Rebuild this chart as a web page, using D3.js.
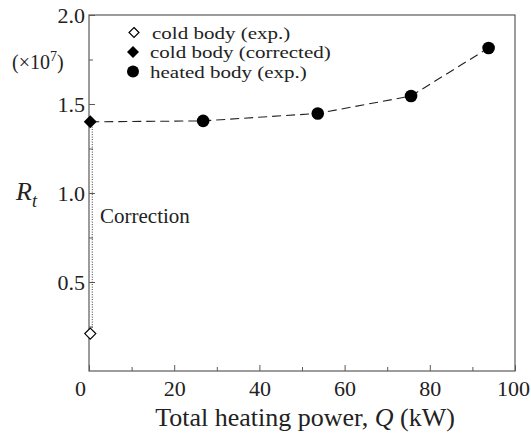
<!DOCTYPE html>
<html>
<head>
<meta charset="utf-8">
<script src="https://cdn.jsdelivr.net/npm/d3@7"></script>
<style>
  body { margin: 0; background: #fff; }
  svg text { font-family: "Liberation Serif", "DejaVu Serif", serif; fill: #222; }
</style>
</head>
<body>
<svg id="chart" width="531" height="439"></svg>
<script>
// Thermal resistance R_t (×10^7) versus total heating power Q (kW)
const coldExpQ = [0.3];
const coldExpR = [0.21];
const coldCorrQ = [0.3];
const coldCorrR = [1.40];
const heatedQ = [0.3, 26.8, 53.7, 75.6, 93.8];
const heatedR = [1.40, 1.405, 1.447, 1.545, 1.815];
const xTicks = [0, 20, 40, 60, 80, 100];
const xMinor = [10, 30, 50, 70, 90];
const yTicks = [0.5, 1.0, 1.5, 2.0];
const yMinor = [0.25, 0.75, 1.25, 1.75];
const legendLabels = ["cold body (exp.)", "cold body (corrected)", "heated body (exp.)"];

const svg = d3.select("#chart");
const L = 89, R = 515, T = 15, B = 371;
const x = d3.scaleLinear().domain([0, 100]).range([L, R]);
const y = d3.scaleLinear().domain([0, 2]).range([B, T]);
const axisColor = "#5a5a5a";

// frame
svg.append("rect").attr("x", L).attr("y", T).attr("width", R - L).attr("height", B - T)
  .attr("fill", "none").attr("stroke", axisColor).attr("stroke-width", 1.2);

// bottom axis: inward ticks
const xAxis = svg.append("g").attr("transform", `translate(0,${B})`)
  .call(d3.axisBottom(x).tickValues(xTicks).tickSize(-6).tickFormat(d3.format("d")).tickPadding(9));
const xMinorAxis = svg.append("g").attr("transform", `translate(0,${B})`)
  .call(d3.axisBottom(x).tickValues(xMinor).tickSize(-4).tickFormat(""));
// left axis: inward ticks
const yAxis = svg.append("g").attr("transform", `translate(${L},0)`)
  .call(d3.axisLeft(y).tickValues(yTicks).tickSize(-6).tickFormat(d3.format(".1f")).tickPadding(4));
const yMinorAxis = svg.append("g").attr("transform", `translate(${L},0)`)
  .call(d3.axisLeft(y).tickValues(yMinor).tickSize(-4).tickFormat(""));

[xAxis, xMinorAxis, yAxis, yMinorAxis].forEach(g => {
  g.select(".domain").remove();
  g.selectAll("line").attr("stroke", axisColor).attr("stroke-width", 1);
  g.selectAll("text").attr("font-size", 22).attr("fill", "#222")
    .style("font-family", "'Liberation Serif', serif");
});
xAxis.selectAll("text").attr("dy", "0.71em");
xAxis.selectAll(".tick").filter(d => d === 0).select("text").attr("dx", -9);
xAxis.selectAll(".tick").filter(d => d === 100).select("text").attr("dx", -2);

// axis titles
const xt = svg.append("text").attr("x", 305).attr("y", 426).attr("text-anchor", "middle")
  .attr("font-size", 26);
xt.append("tspan").text("Total heating power, ");
xt.append("tspan").attr("font-style", "italic").text("Q");
xt.append("tspan").text(" (kW)");

const yt = svg.append("text").attr("x", 16).attr("y", 200).attr("font-size", 26);
yt.append("tspan").attr("font-style", "italic").text("R");
yt.append("tspan").attr("font-style", "italic").attr("font-size", 18).attr("dy", 7).text("t");

const sc = svg.append("text").attr("x", 12).attr("y", 69).attr("font-size", 20);
sc.append("tspan").text("(×10");
sc.append("tspan").attr("font-size", 14).attr("dy", -8).text("7");
sc.append("tspan").attr("dy", 8).text(")");

// correction line (dotted)
svg.append("line")
  .attr("x1", x(coldExpQ[0]) + 2).attr("x2", x(coldCorrQ[0]) + 2)
  .attr("y1", y(coldExpR[0]) - 6).attr("y2", y(coldCorrR[0]) + 5)
  .attr("stroke", "#333").attr("stroke-width", 1).attr("stroke-dasharray", "1,1.5");
svg.append("text").attr("x", 100).attr("y", 223).attr("font-size", 21).text("Correction");

// dashed line through heated points
svg.append("path")
  .datum(heatedQ.map((q, i) => [q, heatedR[i]]))
  .attr("fill", "none").attr("stroke", "#222").attr("stroke-width", 1.1)
  .attr("stroke-dasharray", "9,5")
  .attr("d", d3.line().x(d => x(d[0])).y(d => y(d[1])));

const diamond = s => `M0,${-s}L${s},0L0,${s}L${-s},0Z`;

// heated markers
svg.selectAll(".heated").data(heatedQ.slice(1).map((q, i) => [q, heatedR[i + 1]]))
  .enter().append("circle")
  .attr("cx", d => x(d[0])).attr("cy", d => y(d[1])).attr("r", 6.3).attr("fill", "#000");

// cold corrected marker
svg.selectAll(".coldcorr").data(coldCorrQ.map((q, i) => [q, coldCorrR[i]]))
  .enter().append("path")
  .attr("transform", d => `translate(${x(d[0])},${y(d[1])})`)
  .attr("d", diamond(6.5)).attr("fill", "#000");

// cold exp marker
svg.selectAll(".coldexp").data(coldExpQ.map((q, i) => [q, coldExpR[i]]))
  .enter().append("path")
  .attr("transform", d => `translate(${x(d[0])},${y(d[1])})`)
  .attr("d", diamond(5.5)).attr("fill", "#fff").attr("stroke", "#000").attr("stroke-width", 1.2);

// legend: compact line height, glyphs widened to a 21px advance
const lg = svg.append("g");
const rows = [32.5, 52, 71.5];
lg.append("path").attr("transform", `translate(134,${rows[0]})`).attr("d", diamond(5))
  .attr("fill", "#fff").attr("stroke", "#000").attr("stroke-width", 1.2);
lg.append("path").attr("transform", `translate(133,${rows[1]})`).attr("d", diamond(6))
  .attr("fill", "#000");
lg.append("circle").attr("cx", 133).attr("cy", rows[2]).attr("r", 6).attr("fill", "#000");
const legendSize = 17.5, legendAdvance = 21;
legendLabels.forEach((t, i) => {
  const txt = lg.append("text").attr("x", [152, 150, 150][i]).attr("y", rows[i] + 6)
    .attr("font-size", legendSize).text(t);
  const w = txt.node().getComputedTextLength();
  txt.attr("textLength", w * legendAdvance / legendSize).attr("lengthAdjust", "spacingAndGlyphs");
});
</script>
</body>
</html>
